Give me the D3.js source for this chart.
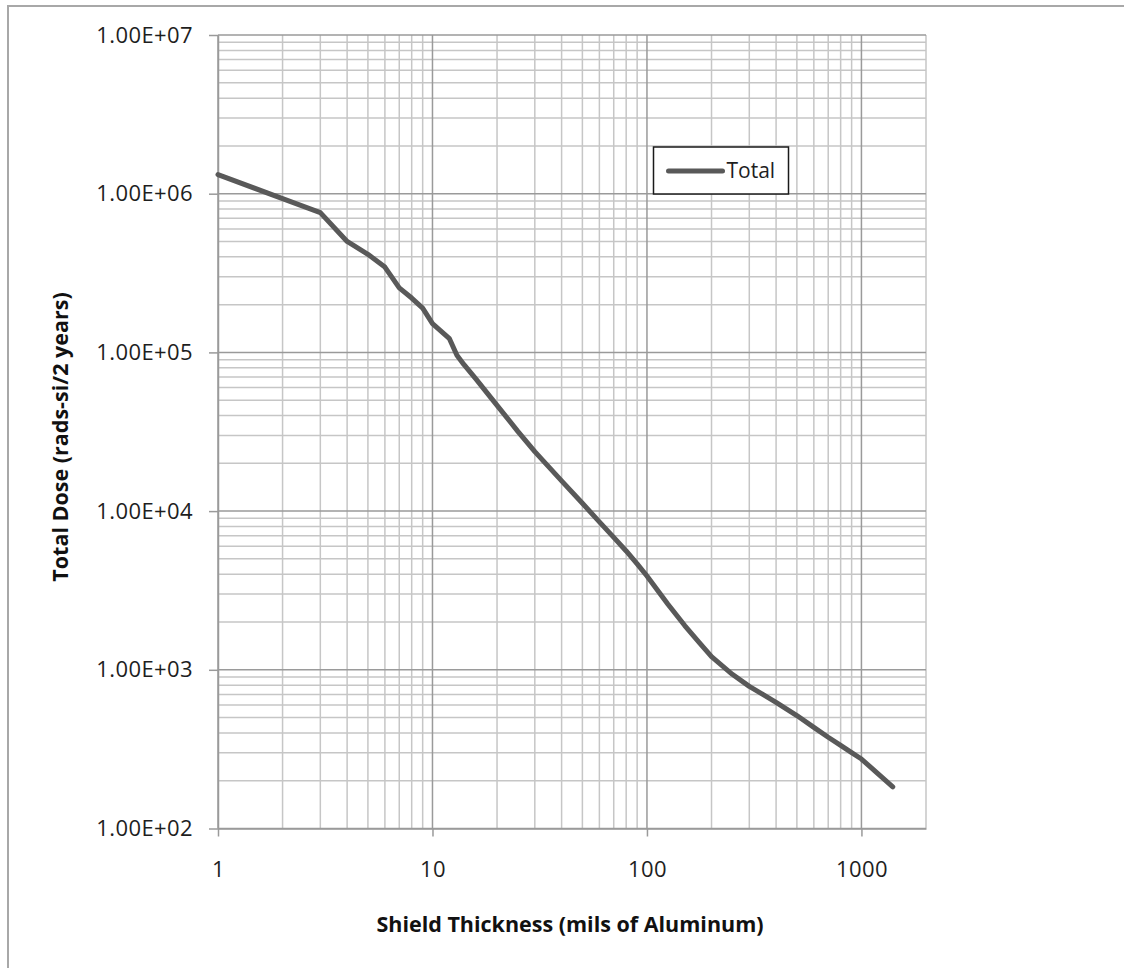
<!DOCTYPE html>
<html>
<head>
<meta charset="utf-8">
<script src="https://cdn.jsdelivr.net/npm/d3@7"></script>
<style>
  body { margin: 0; background: #ffffff; }
  svg { display: block; }
</style>
</head>
<body>
<svg id="chart" width="1124" height="968"></svg>
<script>
// Shield thickness (mils of aluminum) and total dose (rads-si over 2 years)
const thickness = [1, 2, 3, 4, 5, 6, 7, 8, 9, 10, 12, 13, 14, 16, 18, 20, 25, 30, 40, 50, 60, 70, 80, 90, 100, 125, 150, 175, 200, 250, 300, 350, 400, 500, 600, 700, 800, 900, 1000, 1200, 1400];
const totalDose = [1.32e6, 9.3e5, 7.6e5, 5.0e5, 4.15e5, 3.45e5, 2.55e5, 2.2e5, 1.9e5, 1.52e5, 1.22e5, 9.6e4, 8.4e4, 6.76e4, 5.54e4, 4.64e4, 3.18e4, 2.37e4, 1.55e4, 1.12e4, 8.56e3, 6.83e3, 5.61e3, 4.65e3, 3.9e3, 2.6e3, 1.9e3, 1.49e3, 1.21e3, 9.37e2, 7.86e2, 6.95e2, 6.24e2, 5.15e2, 4.34e2, 3.76e2, 3.34e2, 3.01e2, 2.74e2, 2.2e2, 1.83e2];
const seriesName = "Total";

const xTickValues = [1, 10, 100, 1000];
const xTickLabels = ["1", "10", "100", "1000"];
const yTickValues = [1e2, 1e3, 1e4, 1e5, 1e6, 1e7];
const yTickLabels = ["1.00E+02", "1.00E+03", "1.00E+04", "1.00E+05", "1.00E+06", "1.00E+07"];
const xDomain = [1, 2000];
const yDomain = [1e2, 1e7];

const xTitle = "Shield Thickness (mils of Aluminum)";
const yTitle = "Total Dose (rads-si/2 years)";

const FONT = "'Open Sans', 'Noto Sans', sans-serif";
const svg = d3.select("#chart");
const plot = { left: 218, right: 926, top: 35, bottom: 828.5 };

const x = d3.scaleLog().domain(xDomain).range([plot.left, plot.right]);
const y = d3.scaleLog().domain(yDomain).range([plot.bottom, plot.top]);

// outer chart frame
svg.append("rect")
  .attr("x", 8).attr("y", 6)
  .attr("width", 1300).attr("height", 1100)
  .attr("fill", "none")
  .attr("stroke", "#a8a8a8")
  .attr("stroke-width", 2);

// minor gridline values: 2..9 within each decade
function minorValues(domain) {
  const out = [];
  for (let d = domain[0]; d < domain[1]; d *= 10) {
    for (let k = 2; k <= 9; k++) {
      const v = k * d;
      if (v <= domain[1] * 1.0001) out.push(v);
    }
  }
  return out;
}
function majorValues(domain) {
  const out = [];
  for (let d = domain[0]; d <= domain[1] * 1.0001; d *= 10) out.push(d);
  return out;
}

const grid = svg.append("g").attr("class", "grid");
grid.selectAll("line.vminor").data(minorValues(xDomain)).join("line")
  .attr("class", "vminor")
  .attr("x1", d => x(d)).attr("x2", d => x(d))
  .attr("y1", plot.top).attr("y2", plot.bottom)
  .attr("stroke", "#c6c6c6").attr("stroke-width", 1.5);
grid.selectAll("line.hminor").data(minorValues(yDomain)).join("line")
  .attr("class", "hminor")
  .attr("y1", d => y(d)).attr("y2", d => y(d))
  .attr("x1", plot.left).attr("x2", plot.right)
  .attr("stroke", "#c6c6c6").attr("stroke-width", 1.5);
grid.selectAll("line.vmajor").data(majorValues(xDomain)).join("line")
  .attr("class", "vmajor")
  .attr("x1", d => x(d)).attr("x2", d => x(d))
  .attr("y1", plot.top).attr("y2", plot.bottom)
  .attr("stroke", "#9a9a9a").attr("stroke-width", 1.5);
grid.selectAll("line.hmajor").data(majorValues(yDomain)).join("line")
  .attr("class", "hmajor")
  .attr("y1", d => y(d)).attr("y2", d => y(d))
  .attr("x1", plot.left).attr("x2", plot.right)
  .attr("stroke", "#9a9a9a").attr("stroke-width", 1.5);

// axes
const xAxis = d3.axisBottom(x)
  .tickValues(xTickValues)
  .tickFormat((d, i) => xTickLabels[i])
  .tickSize(8).tickSizeOuter(0).tickPadding(25);
const gx = svg.append("g").attr("transform", `translate(0,${plot.bottom})`).call(xAxis);

const yAxis = d3.axisLeft(y)
  .tickValues(yTickValues)
  .tickFormat((d, i) => yTickLabels[i])
  .tickSize(9).tickSizeOuter(0).tickPadding(16);
const gy = svg.append("g").attr("transform", `translate(${plot.left},0)`).call(yAxis);

[gx, gy].forEach(g => {
  g.select(".domain").attr("stroke", "#9a9a9a").attr("stroke-width", 1.5);
  g.selectAll(".tick line").attr("stroke", "#9a9a9a").attr("stroke-width", 1.5);
  g.selectAll(".tick text")
    .attr("fill", "#1e1e1e")
    .style("font-family", FONT)
    .style("font-size", "22px")
    .style("letter-spacing", "0.4px");
});

// dose curve
const line = d3.line()
  .x(d => x(d[0]))
  .y(d => y(d[1]));
svg.append("path")
  .datum(thickness.map((t, i) => [t, totalDose[i]]))
  .attr("d", line)
  .attr("fill", "none")
  .attr("stroke", "#595959")
  .attr("stroke-width", 5)
  .attr("stroke-linejoin", "round")
  .attr("stroke-linecap", "round");

// legend
const legend = svg.append("g").attr("transform", "translate(653.5,147)");
legend.append("rect")
  .attr("width", 135).attr("height", 47)
  .attr("fill", "#ffffff")
  .attr("stroke", "#1a1a1a").attr("stroke-width", 1.5);
legend.append("line")
  .attr("x1", 15).attr("x2", 69).attr("y1", 24).attr("y2", 24)
  .attr("stroke", "#595959").attr("stroke-width", 5).attr("stroke-linecap", "round");
legend.append("text")
  .attr("x", 73).attr("y", 24).attr("dy", "0.35em")
  .attr("fill", "#1e1e1e")
  .style("font-family", FONT).style("font-size", "21px")
  .text(seriesName);

// axis titles
svg.append("text")
  .attr("x", 570).attr("y", 924).attr("dy", "0.35em")
  .attr("text-anchor", "middle")
  .style("font-family", FONT).style("font-size", "21.5px").style("font-weight", "bold")
  .attr("fill", "#111")
  .text(xTitle);
svg.append("text")
  .attr("transform", "translate(60,437) rotate(-90)")
  .attr("dy", "0.35em")
  .attr("text-anchor", "middle")
  .style("font-family", FONT).style("font-size", "21.5px").style("font-weight", "bold")
  .attr("fill", "#111")
  .text(yTitle);
</script>
</body>
</html>
